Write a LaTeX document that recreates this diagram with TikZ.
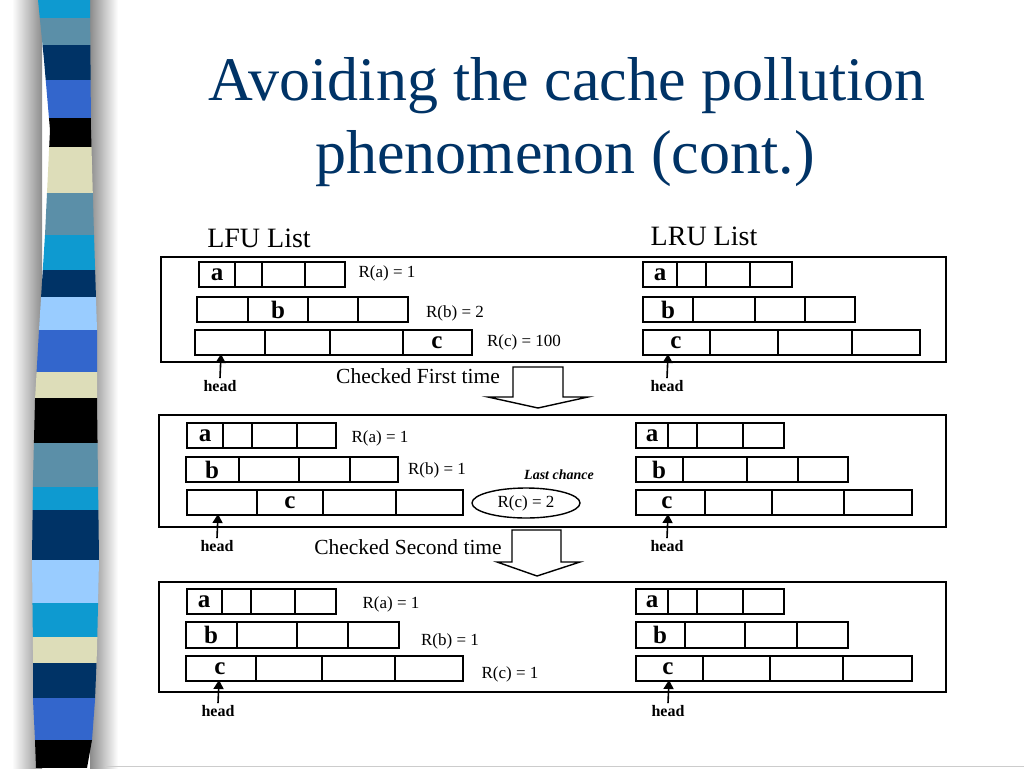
\documentclass[tikz,border=0pt]{standalone}
\usepackage{fontspec}
\setmainfont{Liberation Serif}
\usetikzlibrary{shapes.geometric,arrows.meta}
\definecolor{titleblue}{HTML}{003366}
\definecolor{scyan}{HTML}{0E9AD0}
\definecolor{ssteel}{HTML}{5B8FA8}
\definecolor{snavy}{HTML}{003366}
\definecolor{sroyal}{HTML}{3366CC}
\definecolor{sbeige}{HTML}{DDDDB9}
\definecolor{slight}{HTML}{99CCFF}
\tikzset{
  frame/.style={draw=black, line width=1.4pt},
  cellline/.style={draw=black, line width=1.4pt},
  letter/.style={font=\fontsize{25}{27}\selectfont\bfseries, inner sep=0pt},
  rlabel/.style={font=\fontsize{17}{19}\selectfont, inner sep=0pt},
  headlbl/.style={font=\fontsize{16}{18}\selectfont\bfseries, inner sep=0pt},
  listtitle/.style={font=\fontsize{28}{30}\selectfont, inner sep=0pt},
  checked/.style={font=\fontsize{21.5}{23}\selectfont, inner sep=0pt},
  headarrow/.style={draw=black, line width=1.6pt, -{Triangle[length=9pt,width=10pt]}},
  blockarrow/.style={draw=black, line width=1.4pt, fill=white},
  titletext/.style={font=\fontsize{62}{70}\selectfont, text=titleblue, inner sep=0pt}
}
\newcommand\cellrow[3]{\foreach \xa/\xb in {#3} {\draw[cellline] (\xa,#1) rectangle (\xb,#2);}}
\begin{document}
\begin{tikzpicture}[x=1pt,y=-1pt]
\useasboundingbox (0,0) rectangle (1024,768);
\fill[white] (0,0) rectangle (1024,768);
% shadow of the striped bar
\shade[left color=white, right color=black!45] (12,0) rectangle (42,768);
\shade[left color=black!45, right color=white] (90,0) rectangle (118,768);
% striped bar
\begin{scope}
\clip (38,0) -- (44,60) -- (50,130) -- (45,235) -- (39,330) -- (35,400) -- (33,480) -- (32,560) -- (33,650) -- (33,700) -- (35,740) -- (36,768)
  -- (87,768) -- (92,740) -- (95,700) -- (97,650) -- (99,560) -- (98,480) -- (97,400) -- (97,330) -- (94,235) -- (91,130) -- (90,0) -- cycle;
\foreach \ya/\yb/\cc in {0/18/scyan,18/45/ssteel,45/80/snavy,80/118/sroyal,118/147/black,147/193/sbeige,193/235/ssteel,235/270/scyan,270/297/snavy,297/330/slight,330/372/sroyal,372/398/sbeige,398/443/black,443/487/ssteel,487/510/scyan,510/560/snavy,560/603/slight,603/637/scyan,637/663/sbeige,663/698/snavy,698/740/sroyal,740/768/black}
  {\fill[\cc] (20,\ya) rectangle (110,\yb);}
\end{scope}
\draw[black!20, line width=0.8pt] (105,766.5) -- (1024,766.5);
% title
\node[titletext, anchor=base] (t1) at (567,100) {Avoiding the cache pollution};
\node[titletext, anchor=base] (t2) at (565,173) {phenomenon (cont.)};
% list titles
\node[listtitle] (lfu) at (259,238) {LFU List};
\node[listtitle] (lru) at (704,236) {LRU List};

% ---------- panel 1 ----------
\draw[frame] (161,257) rectangle (946,362);
\cellrow{262}{287}{199/235,235/262,262/305,305/345}
\cellrow{297}{322}{197/248,248/308,308/358,358/408}
\cellrow{330}{355}{195/265,265/330,330/403,403/472}
\node[letter] (p1la) at (217,274.5) {a};
\node[letter] (p1lb) at (278,309.5) {b};
\node[letter] (p1lc) at (437,342.5) {c};
\node[rlabel] (p1ra) at (387,273) {R(a) = 1};
\node[rlabel] (p1rb) at (455,313) {R(b) = 2};
\node[rlabel] (p1rc) at (524,342) {R(c) = 100};
\cellrow{262}{287}{643/677,677/706,706/750,750/792}
\cellrow{297}{322}{643/693,693/755,755/805,805/855}
\cellrow{330}{355}{643/710,710/778,778/852,852/920}
\node[letter] (p1ua) at (660,274.5) {a};
\node[letter] (p1ub) at (668,309.5) {b};
\node[letter] (p1uc) at (676,342.5) {c};
\node[headlbl] (p1hl) at (220,386) {head};
\node[headlbl] (p1hu) at (667,386) {head};
\coordinate (p1cl) at (221,354);
\coordinate (p1cu) at (668,354);
\draw[headarrow] ([yshift=2pt]p1hl.north) -- (p1cl);
\draw[headarrow] ([yshift=2pt]p1hu.north) -- (p1cu);
\node[checked] (chk1) at (418,376) {Checked First time};
\draw[blockarrow] (513,367) -- (563,367) -- (563,397) -- (588,397) -- (538,408) -- (488,397) -- (513,397) -- cycle;

% ---------- panel 2 ----------
\draw[frame] (159,415) rectangle (946,527);
\cellrow{423}{448}{187/223,223/252,252/297,297/336}
\cellrow{457}{482}{186/239,239/299,299/350,350/398}
\cellrow{490}{515}{187/257,257/323,323/396,396/463}
\node[letter] (p2la) at (205,435.5) {a};
\node[letter] (p2lb) at (212,469.5) {b};
\node[letter] (p2lc) at (290,502.5) {c};
\node[rlabel] (p2ra) at (380,438) {R(a) = 1};
\node[rlabel] (p2rb) at (437,470) {R(b) = 1};
\node[font=\fontsize{14}{16}\selectfont\itshape\bfseries, inner sep=0pt] (last) at (559,475) {Last chance};
\node[draw, ellipse, line width=1.4pt, minimum width=108pt, minimum height=30pt, inner sep=0pt, rlabel] (p2rc) at (526,503) {R(c) = 2};
\cellrow{423}{448}{636/668,668/697,697/743,743/784}
\cellrow{457}{482}{636/683,683/747,747/798,798/848}
\cellrow{490}{515}{636/705,705/772,772/844,844/912}
\node[letter] (p2ua) at (652,435.5) {a};
\node[letter] (p2ub) at (659,469.5) {b};
\node[letter] (p2uc) at (667,502.5) {c};
\node[headlbl] (p2hl) at (217,546) {head};
\node[headlbl] (p2hu) at (667,546) {head};
\coordinate (p2cl) at (218,514);
\coordinate (p2cu) at (668,514);
\draw[headarrow] ([yshift=2pt]p2hl.north) -- (p2cl);
\draw[headarrow] ([yshift=2pt]p2hu.north) -- (p2cu);
\node[checked] (chk2) at (408,547) {Checked Second time};
\draw[blockarrow] (512,530) -- (561,530) -- (561,562) -- (580,562) -- (537,576) -- (497,562) -- (512,562) -- cycle;

% ---------- panel 3 ----------
\draw[frame] (159,582) rectangle (946,692);
\cellrow{589}{614}{187/222,222/251,251/295,295/336}
\cellrow{622}{648}{186/237,237/297,297/348,348/399}
\cellrow{656}{681}{186/256,256/322,322/395,395/463}
\node[letter] (p3la) at (204,601.5) {a};
\node[letter] (p3lb) at (211,635) {b};
\node[letter] (p3lc) at (220,668.5) {c};
\node[rlabel] (p3ra) at (391,604) {R(a) = 1};
\node[rlabel] (p3rb) at (450,641) {R(b) = 1};
\node[rlabel] (p3rc) at (510,674) {R(c) = 1};
\cellrow{589}{614}{636/668,668/697,697/743,743/784}
\cellrow{622}{648}{636/685,685/745,745/797,797/848}
\cellrow{656}{681}{636/703,703/770,770/843,843/912}
\node[letter] (p3ua) at (652,601.5) {a};
\node[letter] (p3ub) at (660,635) {b};
\node[letter] (p3uc) at (668,668.5) {c};
\node[headlbl] (p3hl) at (218,711) {head};
\node[headlbl] (p3hu) at (668,711) {head};
\coordinate (p3cl) at (219,680);
\coordinate (p3cu) at (669,680);
\draw[headarrow] ([yshift=2pt]p3hl.north) -- (p3cl);
\draw[headarrow] ([yshift=2pt]p3hu.north) -- (p3cu);
\end{tikzpicture}
\end{document}
